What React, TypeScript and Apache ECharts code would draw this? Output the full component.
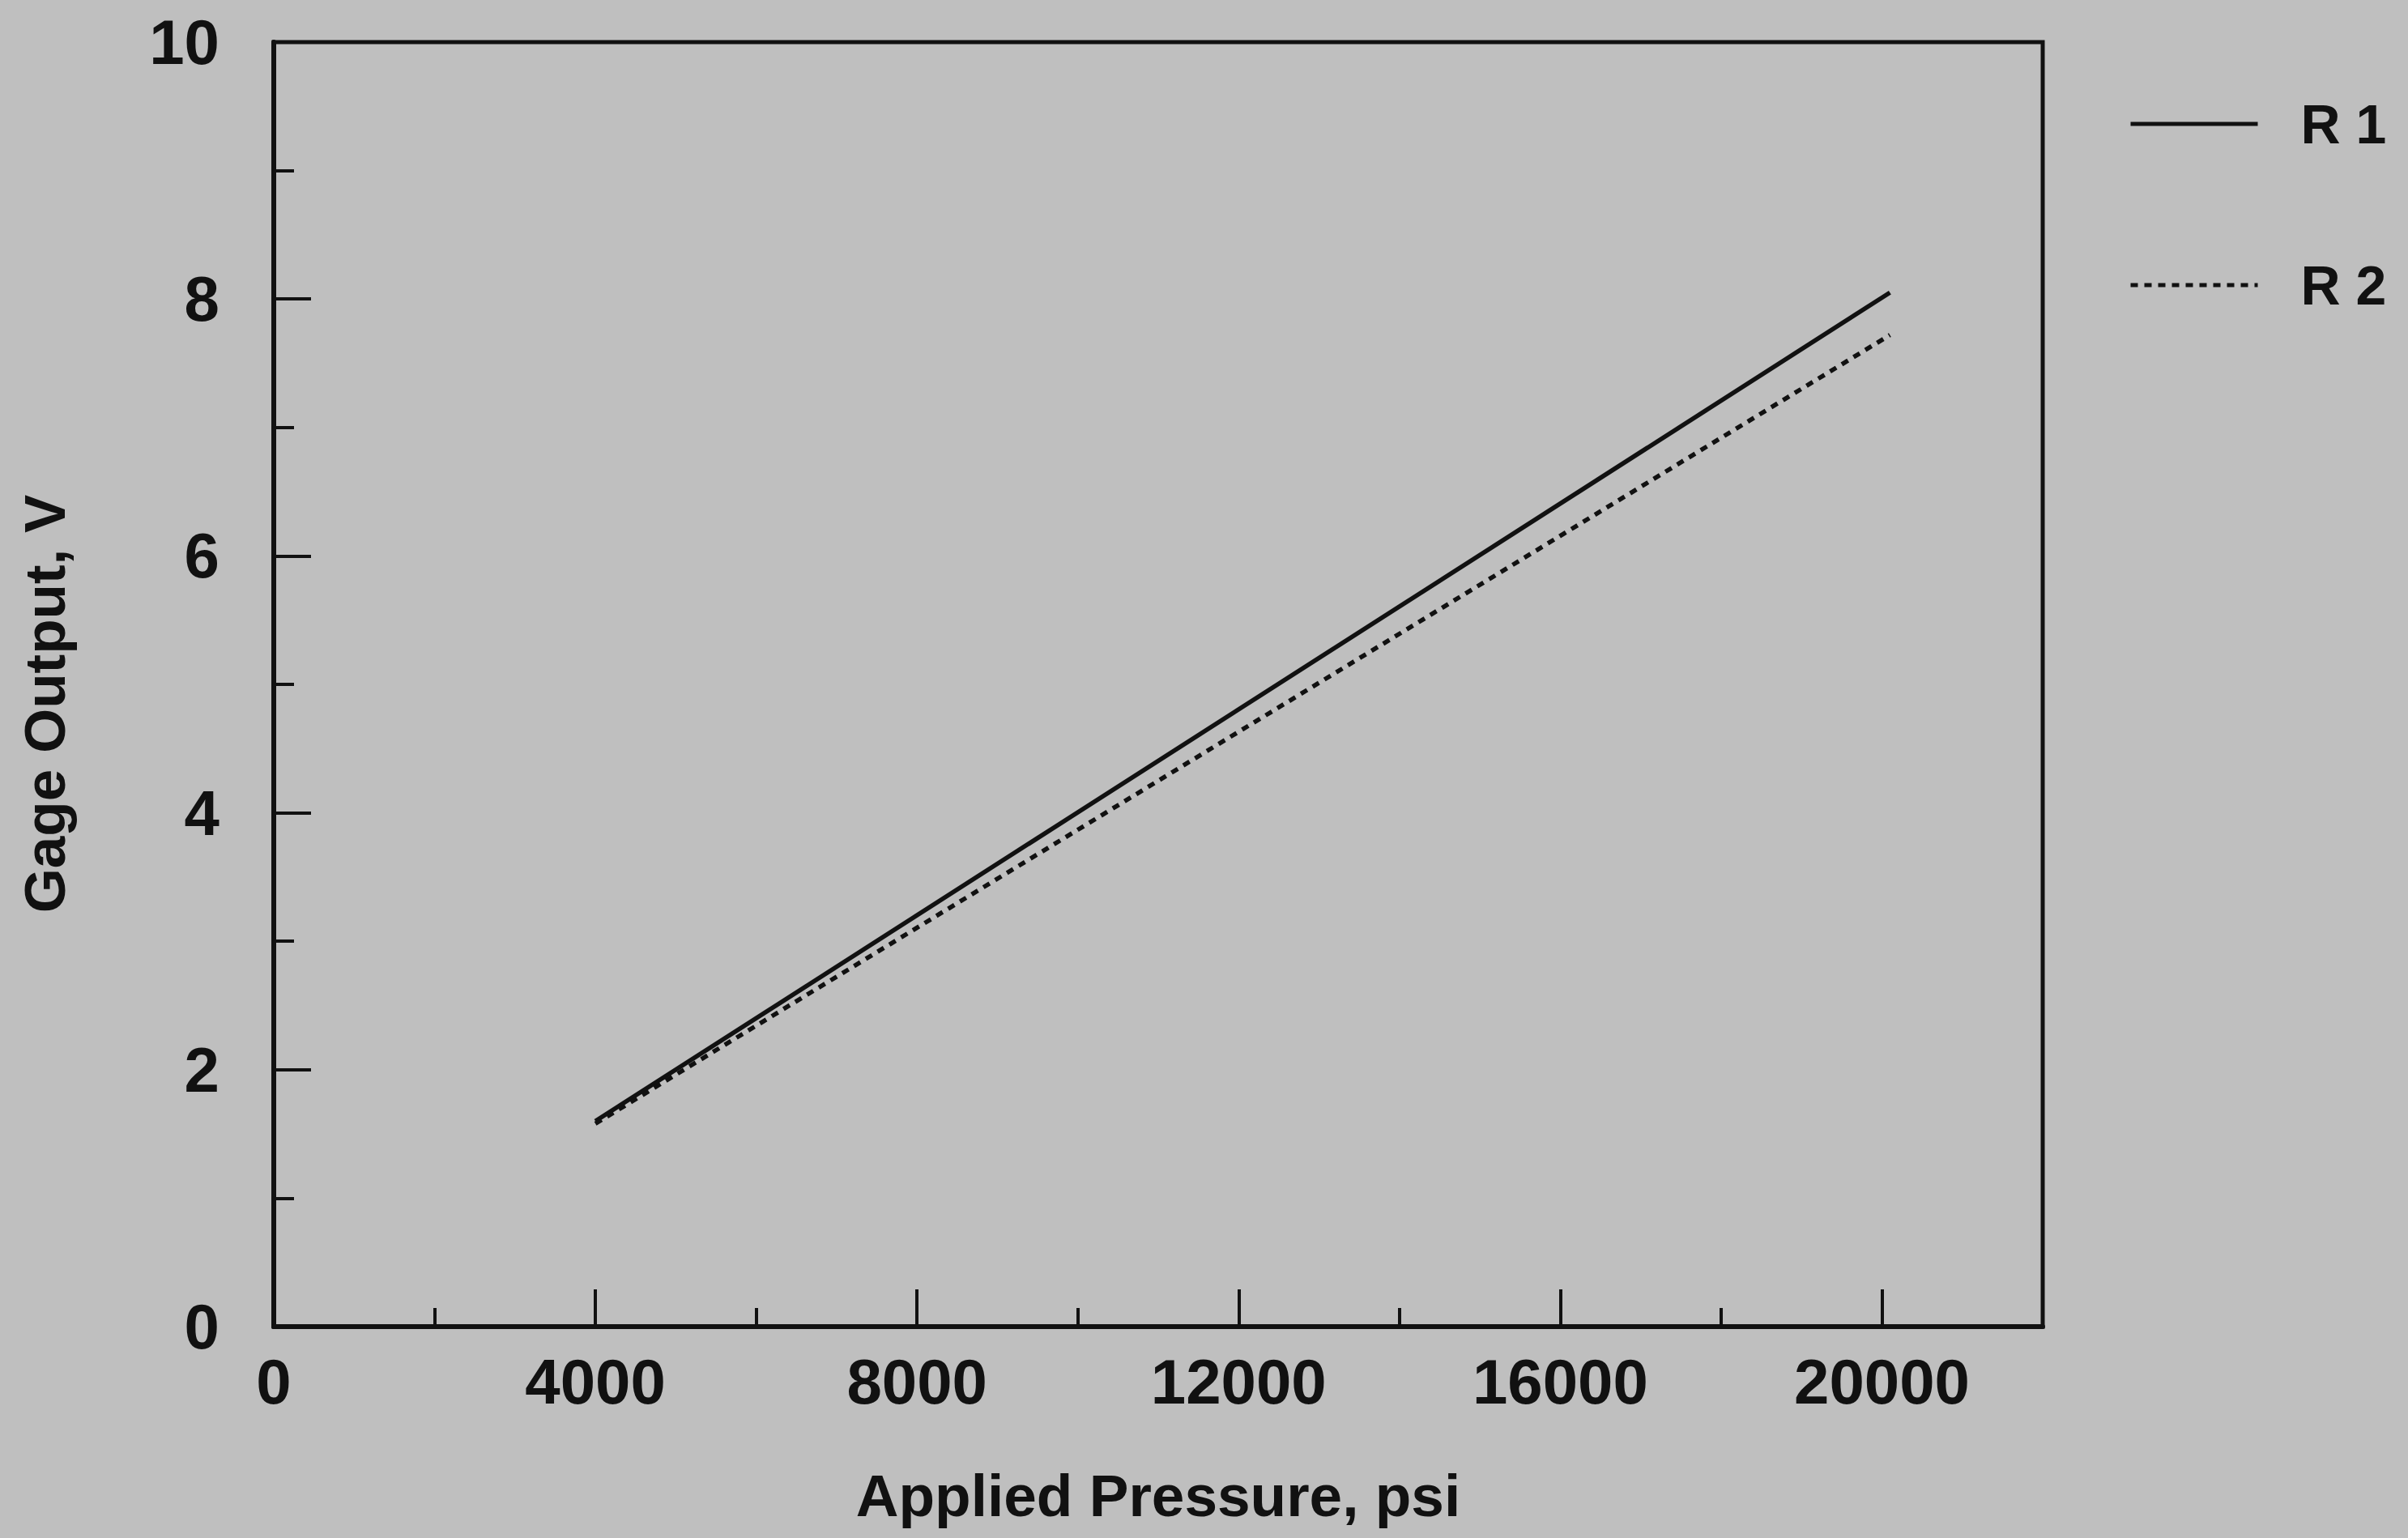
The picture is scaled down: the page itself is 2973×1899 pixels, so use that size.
import React, { useEffect, useRef } from "react";
import * as echarts from "echarts";

const pressureR1 = [4000, 20100];
const outputR1 = [1.6, 8.05];
const pressureR2 = [4000, 20100];
const outputR2 = [1.58, 7.72];

const xMajorTicks = [4000, 8000, 12000, 16000, 20000];
const xMinorTicks = [2000, 6000, 10000, 14000, 18000];
const xLabels = [0, 4000, 8000, 12000, 16000, 20000];

const seriesNames = ["R 1", "R 2"];

const SANS = "'Liberation Sans', Arial, Helvetica, sans-serif";
const INK = "#111111";

export default function App() {
  const ref = useRef<HTMLDivElement>(null);

  useEffect(() => {
    if (!ref.current) return;
    const chart = echarts.init(ref.current, null, { renderer: "svg" });
    const toPairs = (xs: number[], ys: number[]) => xs.map((x, i) => [x, ys[i]]);

    chart.setOption({
      animation: false,
      backgroundColor: "#bfbfbf",
      grid: {
        left: 338,
        top: 52,
        right: 451,
        bottom: 261,
        show: true,
        borderColor: INK,
        borderWidth: 5,
        backgroundColor: "transparent",
      },
      legend: {
        orient: "vertical",
        left: 2623,
        top: 113,
        itemWidth: 157,
        itemHeight: 70,
        itemGap: 129,
        itemStyle: { opacity: 0 },
        lineStyle: { width: 5 },
        textStyle: {
          fontFamily: SANS,
          fontWeight: "bold",
          fontSize: 68,
          lineHeight: 70,
          color: INK,
          padding: [0, 0, 0, 48],
        },
        data: seriesNames,
      },
      xAxis: [
        {
          type: "value",
          min: 0,
          max: 22000,
          interval: 4000,
          position: "bottom",
          name: "Applied Pressure, psi",
          nameLocation: "middle",
          nameGap: 172,
          nameTextStyle: {
            fontFamily: SANS,
            fontWeight: "bold",
            fontSize: 73,
            lineHeight: 73,
            color: INK,
          },
          axisLine: { show: true, lineStyle: { color: INK, width: 6 } },
          axisTick: {
            show: true,
            inside: true,
            length: 46,
            customValues: xMajorTicks,
            lineStyle: { color: INK, width: 4 },
          },
          minorTick: { show: false },
          splitLine: { show: false },
          axisLabel: {
            customValues: xLabels,
            formatter: (v: number) => String(v),
            margin: 28,
            fontFamily: SANS,
            fontWeight: "bold",
            fontSize: 78,
            lineHeight: 80,
            color: INK,
          },
        },
        {
          type: "value",
          min: 0,
          max: 22000,
          interval: 2000,
          position: "bottom",
          axisLine: { show: false },
          axisTick: {
            show: true,
            inside: true,
            length: 23,
            customValues: xMinorTicks,
            lineStyle: { color: INK, width: 4 },
          },
          axisLabel: { show: false },
          splitLine: { show: false },
        },
      ],
      yAxis: {
        type: "value",
        min: 0,
        max: 10,
        interval: 2,
        name: "Gage Output, V",
        nameLocation: "middle",
        nameGap: 247,
        nameRotate: 90,
        nameTextStyle: {
          fontFamily: SANS,
          fontWeight: "bold",
          fontSize: 71,
          lineHeight: 71,
          color: INK,
          padding: [0, 48, 0, 0],
        },
        axisLine: { show: true, lineStyle: { color: INK, width: 6 } },
        axisTick: {
          show: true,
          inside: true,
          length: 46,
          lineStyle: { color: INK, width: 4 },
        },
        minorTick: {
          show: true,
          splitNumber: 2,
          length: 25,
          lineStyle: { color: INK, width: 4 },
        },
        splitLine: { show: false },
        minorSplitLine: { show: false },
        axisLabel: {
          formatter: (v: number) => String(v),
          margin: 67,
          fontFamily: SANS,
          fontWeight: "bold",
          fontSize: 78,
          lineHeight: 80,
          color: INK,
        },
      },
      series: [
        {
          name: seriesNames[0],
          type: "line",
          xAxisIndex: 0,
          data: toPairs(pressureR1, outputR1),
          showSymbol: false,
          symbol: "none",
          lineStyle: { color: INK, width: 5.5, type: "solid" },
          itemStyle: { color: INK },
        },
        {
          name: seriesNames[1],
          type: "line",
          xAxisIndex: 0,
          data: toPairs(pressureR2, outputR2),
          showSymbol: false,
          symbol: "none",
          lineStyle: { color: INK, width: 5.5, type: [9, 8] },
          itemStyle: { color: INK },
        },
      ],
    });

    return () => chart.dispose();
  }, []);

  return (
    <div
      ref={ref}
      style={{ position: "fixed", left: 0, top: 0, width: 2973, height: 1899 }}
    />
  );
}
